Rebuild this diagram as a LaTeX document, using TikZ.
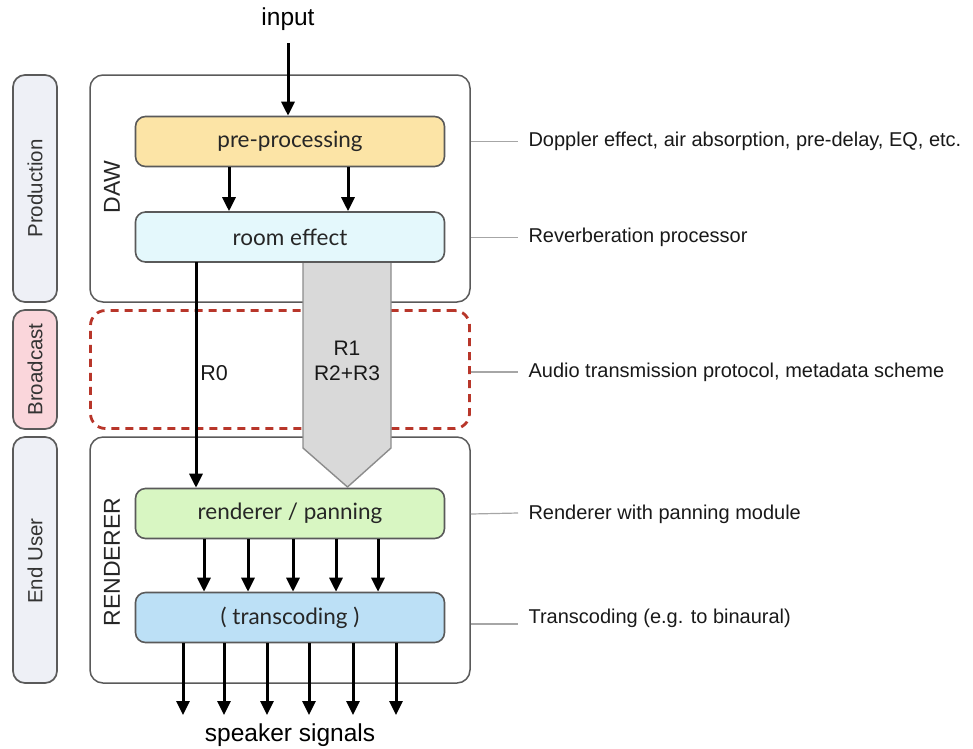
\documentclass[tikz,border=0pt]{standalone}
\usepackage{fontspec}
\setmainfont{Liberation Sans}
\newfontfamily\boxfont{Lato}
\usetikzlibrary{arrows.meta}
\definecolor{sidegray}{HTML}{EEF0F6}
\definecolor{sidepink}{HTML}{FAD6DB}
\definecolor{preyellow}{HTML}{FCE4A6}
\definecolor{roomcyan}{HTML}{E4F8FC}
\definecolor{rendgreen}{HTML}{D8F6C2}
\definecolor{transblue}{HTML}{BCE0F6}
\definecolor{dashred}{HTML}{B8362A}
\definecolor{edgegray}{HTML}{5A5A5A}
\tikzset{
  sidebox/.style={draw=edgegray, line width=1.7pt, rounded corners=12pt, minimum width=44pt, inner sep=0pt},
  groupbox/.style={draw=edgegray, line width=1.5pt, rounded corners=13pt, minimum width=380pt, inner sep=0pt, fill=white},
  procbox/.style={draw=edgegray, line width=1.6pt, rounded corners=10pt, minimum width=309pt, minimum height=50pt, inner sep=0pt, font=\boxfont\fontsize{22.5}{26}\selectfont, text=black!85},
  sidelabel/.style={rotate=90, font=\fontsize{20.5}{24}\selectfont, text=black!80},
  grouplabel/.style={rotate=90, font=\fontsize{23}{26}\selectfont, text=black!85},
  note/.style={anchor=west, font=\fontsize{20}{24}\selectfont, text=black!90},
  leader/.style={draw=black!35, line width=1.2pt},
  arr/.style={line width=3pt, -{Triangle[length=14pt,width=13pt]}},
}
\begin{document}
\begin{tikzpicture}[x=1pt,y=-1pt]
\useasboundingbox (0,0) rectangle (973,748);

% side boxes
\node[sidebox, fill=sidegray, minimum height=227pt] (sprod) at (35,188.5) {};
\node[sidelabel] (tprod) at (35,188.5) {Production};
\node[sidebox, fill=sidepink, minimum height=119pt] (sbroad) at (35,369.5) {};
\node[sidelabel] (tbroad) at (35,369.5) {Broadcast};
\node[sidebox, fill=sidegray, minimum height=246pt] (suser) at (35,560) {};
\node[sidelabel] (tuser) at (35,561) {End User};

% group boxes
\node[groupbox, minimum height=227pt] (daw) at (280,188.5) {};
\node[groupbox, minimum height=246pt] (renbox) at (280,560) {};
\node[draw=dashred, line width=2.8pt, dash pattern=on 8pt off 6pt, rounded corners=15pt, minimum width=379pt, minimum height=118pt, inner sep=0pt] (bcast) at (280,369.5) {};
\node[grouplabel] (tdaw) at (112,187) {DAW};
\node[grouplabel] (tren) at (112,562) {RENDERER};

% processing boxes
\node[procbox, fill=preyellow] (pre) at (290,141.5) {pre-processing};
\node[procbox, fill=roomcyan] (room) at (290,237) {room effect};
\node[procbox, fill=rendgreen] (rend) at (290,513.5) {renderer / panning};
\node[procbox, fill=transblue] (trans) at (290,617.5) {( transcoding )};

% gray block arrow R1 / R2+R3
\fill[black!15] (303,263) -- (303,448) -- (347.5,487) -- (391,448) -- (391,263) -- cycle;
\draw[black!45, line width=1.4pt] (303,263) -- (303,448) -- (347.5,487) -- (391,448) -- (391,263);
\node[font=\fontsize{21}{25}\selectfont, align=center, text=black!90] (rlab) at (347,361) {R1\\[0pt]R2+R3};

% input
\node[font=\fontsize{24.5}{28}\selectfont] (input) at (288,19) {input};
\coordinate (inStart) at (288,43);
\draw[arr] (inStart) -- (inStart |- pre.north);

% pre -> room
\draw[arr] (229,167) coordinate (p1) -- (p1 |- room.north);
\draw[arr] (348,167) coordinate (p2) -- (p2 |- room.north);

% R0
\draw[arr] (196,262) coordinate (r0) -- (r0 |- rend.north);
\node[font=\fontsize{21.5}{25}\selectfont, text=black!90] (r0lab) at (214,373) {R0};

% renderer -> transcoding
\foreach \x [count=\i] in {204,248,293,336,378} {
  \draw[arr] (\x,539) coordinate (q\i) -- (q\i |- trans.north);
}

% speaker signals
\coordinate (spkEnd) at (290,715);
\foreach \x [count=\i] in {183,224,267,309,353,396} {
  \draw[arr] (\x,643) coordinate (s\i) -- (s\i |- spkEnd);
}
\node[font=\fontsize{24.5}{28}\selectfont] (spk) at (290,735) {speaker signals};

% notes
\node[note] (n1) at (525,141.5) {Doppler effect, air absorption, pre-delay, EQ, etc.};
\node[note] (n2) at (525,237.5) {Reverberation processor};
\node[note] (n3) at (525,372) {Audio transmission protocol, metadata scheme};
\node[note] (n4) at (525,514) {Renderer with panning module};
\node[note] (n5) at (525,618) {Transcoding (e.g. to binaural)};
\draw[leader] (daw.east |- n1.west) -- (518,141.5);
\draw[leader] (daw.east |- n2.west) -- (518,237.5);
\draw[leader] (bcast.east |- n3.west) -- (518,372);
\draw[leader] (renbox.east |- n4.west) -- (518,513);
\draw[leader] (renbox.east |- 0,624) -- (518,624);
\end{tikzpicture}
\end{document}
